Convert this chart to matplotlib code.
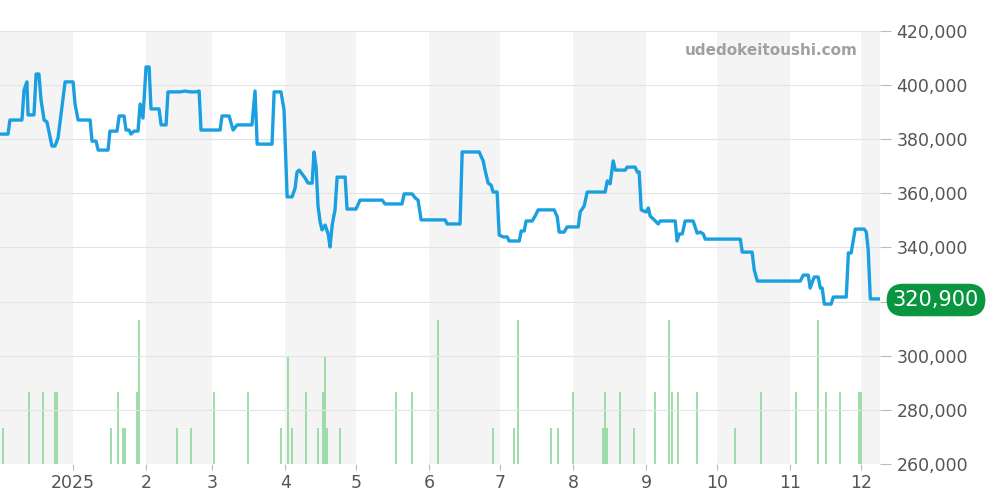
import datetime as dt
import numpy as np
import matplotlib.pyplot as plt

# =========================================================
# DATA  (days since 2024-12-01, price in thousands of yen)
# =========================================================

price_days = [0, 3.4, 4.2, 9.3, 10.2, 11.4, 11.9, 14.4, 15.3, 16.5, 17.4, 18.7, 19.9, 22, 23.3, 24.6, 27.6,
              31, 31.8, 33.1, 38.2, 39, 40.7, 41.6, 45.8, 46.6, 49.6, 50.5, 52.6, 53.4, 54.7, 55.5, 56.8,
              58.5, 59.4, 60.6, 61.9, 63.2, 64, 67.4, 68.3, 70.4, 71.2, 76.3, 78.4, 80.6, 83.1, 84.4, 85.2,
              93.3, 94.1, 97.1, 98.8, 100.5, 106.8, 108.1, 109, 115.3, 116.2, 119.1, 120.4, 121.7, 123.8,
              125.1, 125.9, 126.8, 129.3, 130.6, 132.3, 133.1, 134, 134.8, 135.7, 136.5, 137.8, 139.1, 139.9,
              140.8, 142, 142.9, 146.3, 147.1, 150.9, 152.6, 162, 163.2, 170.4, 171.3, 174.7, 176, 177.2,
              178.5, 188.7, 189.5, 195, 195.9, 203.1, 204.8, 205.6, 206.9, 208.2, 209, 210.7, 211.6, 213.3,
              215, 215.8, 220.1, 220.9, 222.2, 223, 225.6, 226.8, 228.1, 234.9, 236.2, 237, 239.1, 240.4,
              245.1, 245.9, 247.6, 248.9, 256.5, 257.4, 258.6, 259.9, 260.8, 265, 265.8, 269.2, 270.1, 270.9,
              271.8, 273.9, 274.8, 275.6, 277.3, 279, 279.8, 286.2, 287, 287.9, 289.2, 290.4, 293.8, 295.5,
              296.8, 298.1, 298.9, 313.8, 314.6, 318.8, 319.7, 321, 339.2, 340.5, 342.6, 343.4, 345.1, 346.8,
              347.7, 348.5, 349.4, 352.3, 353.2, 358.7, 359.6, 360.8, 361.7, 362.5, 366.3, 367.2, 368, 368.9,
              372.3]

price_k = [381.9, 381.9, 387.1, 387.1, 398.2, 401.2, 389, 389, 404.1, 404.1, 394.5, 387.1, 386.4, 377.5, 377.5,
           380.5, 401.2, 401.2, 393, 387.1, 387.1, 379.3, 379.3, 376, 376, 383, 383, 388.6, 388.6, 383.4, 383.4,
           381.9, 383, 383, 393, 387.8, 406.7, 406.7, 391.2, 391.2, 385.3, 385.3, 397.5, 397.5, 397.8, 397.5,
           397.5, 397.8, 383.4, 383.4, 388.6, 388.6, 383.4, 385.3, 385.3, 397.8, 378.2, 378.2, 397.5, 397.5,
           390.8, 358.7, 358.7, 362, 367.9, 368.6, 365.7, 363.8, 363.8, 375.3, 369.7, 355.3, 349.4, 346.5,
           348.3, 345, 340.2, 348.3, 353.9, 366, 366, 354.2, 354.2, 357.5, 357.5, 356.1, 356.1, 359.8, 359.8,
           358.3, 357.5, 350.2, 350.2, 348.7, 348.7, 375.3, 375.3, 372, 368.6, 363.8, 363, 360.5, 360.5, 344.6,
           343.9, 343.9, 342.4, 342.4, 346.1, 346.1, 349.8, 349.8, 351.6, 353.9, 353.9, 351.3, 345.7, 345.7,
           347.6, 347.6, 353.1, 355.3, 360.5, 360.5, 364.6, 363.5, 372, 368.6, 368.6, 369.7, 369.7, 367.9,
           367.9, 353.9, 353.1, 354.6, 351.6, 350.2, 348.7, 349.8, 349.8, 342.4, 345, 345, 349.8, 349.8, 345.3,
           345.7, 345, 343.1, 343.1, 338.3, 338.3, 331.7, 327.6, 327.6, 329.8, 329.8, 325, 329.1, 329.1, 325,
           325, 319.1, 319.1, 321.7, 321.7, 338, 338, 342.8, 346.8, 346.8, 345.7, 339.1, 321, 321]

volume_days = [1.3, 12.3, 18.2, 23.3, 24.2, 47, 50, 52.2, 53, 58.1, 58.9, 75, 81, 90.7, 105.2, 119.1, 122.1,
               123.8, 129.7, 134.8, 137, 137.8, 138.6, 144.2, 167.9, 174.7, 185.7, 209, 217.9, 219.6, 233.6,
               236.6, 243, 255.7, 256.5, 257.4, 262.9, 268.8, 277.7, 283.7, 284.9, 287.5, 295.5, 311.6, 322.7,
               337.5, 346.8, 350.2, 356.2, 364.2, 365]
volume = [1, 2, 2, 2, 2, 1, 2, 1, 1, 2, 4, 1, 1, 2, 2, 1, 3, 1, 2, 1, 2, 3, 1, 1, 2, 2, 4, 1, 1, 4, 1, 1, 2, 1,
          2, 1, 2, 1, 2, 4, 2, 2, 2, 1, 2, 2, 4, 2, 2, 2, 2]

month_ticks = ["2025-01-01", "2025-02-01", "2025-03-01", "2025-04-01", "2025-05-01", "2025-06-01",
               "2025-07-01", "2025-08-01", "2025-09-01", "2025-10-01", "2025-11-01", "2025-12-01"]
month_labels = ["2025", "2", "3", "4", "5", "6", "7", "8", "9", "10", "11", "12"]

last_price = "320,900"

# =========================================================
# PLOT
# =========================================================

start = dt.datetime(2024, 12, 1)
to_date = lambda days: [start + dt.timedelta(days=d) for d in days]
px = to_date(price_days)
vx = to_date(volume_days)
end = start + dt.timedelta(days=373)

fig = plt.figure(figsize=(10, 5), dpi=100)
ax = fig.add_axes([0, 0.072, 0.88, 0.866])
vax = ax.twinx()

# alternating month bands (on the back axes, under the volume bars)
edges = [start] + [dt.datetime.strptime(m, "%Y-%m-%d") for m in month_ticks] + [end]
for i in range(0, len(edges) - 1, 2):
    vax.axvspan(edges[i], edges[i + 1], color="#f4f4f4", zorder=0, lw=0)

vax.vlines(vx, 0, volume, color="#8fd69b", lw=1.2, zorder=2)
vax.set_ylim(0, 12)
vax.axis("off")

ax.plot(px, np.array(price_k) * 1000, color="#1a9fe0", lw=2.4, zorder=5, solid_joinstyle="round")
ax.set_zorder(vax.get_zorder() + 1)
ax.patch.set_visible(False)
fig.patch.set_facecolor("white")

ax.set_xlim(start, end)
ax.set_ylim(260000, 420000)
ax.set_yticks(range(260000, 420001, 20000))
ax.grid(axis="y", color="#e3e3e3", lw=0.8)
ax.yaxis.tick_right()
ax.yaxis.set_major_formatter(plt.FuncFormatter(lambda v, p: f"{int(v):,}"))
ax.set_xticks([dt.datetime.strptime(m, "%Y-%m-%d") for m in month_ticks])
ax.set_xticklabels(month_labels)
ax.tick_params(axis="y", colors="#bbbbbb", labelcolor="#555555", labelsize=12.5, length=8, pad=4)
ax.tick_params(axis="x", colors="#bbbbbb", labelcolor="#555555", labelsize=12.5, length=4)
for s in ax.spines.values():
    s.set_visible(False)

ax.text(0.975, 0.955, "udedokeitoushi.com", transform=ax.transAxes, ha="right", va="center",
        color="#a0a0a0", fontsize=11, fontweight="bold")

fig.text(0.936, 0.4, last_price, ha="center", va="center", color="white", fontsize=15, zorder=10,
         bbox=dict(boxstyle="round,pad=0.3,rounding_size=0.8", fc="#0a9640", ec="none"))

fig.savefig("out.png")
